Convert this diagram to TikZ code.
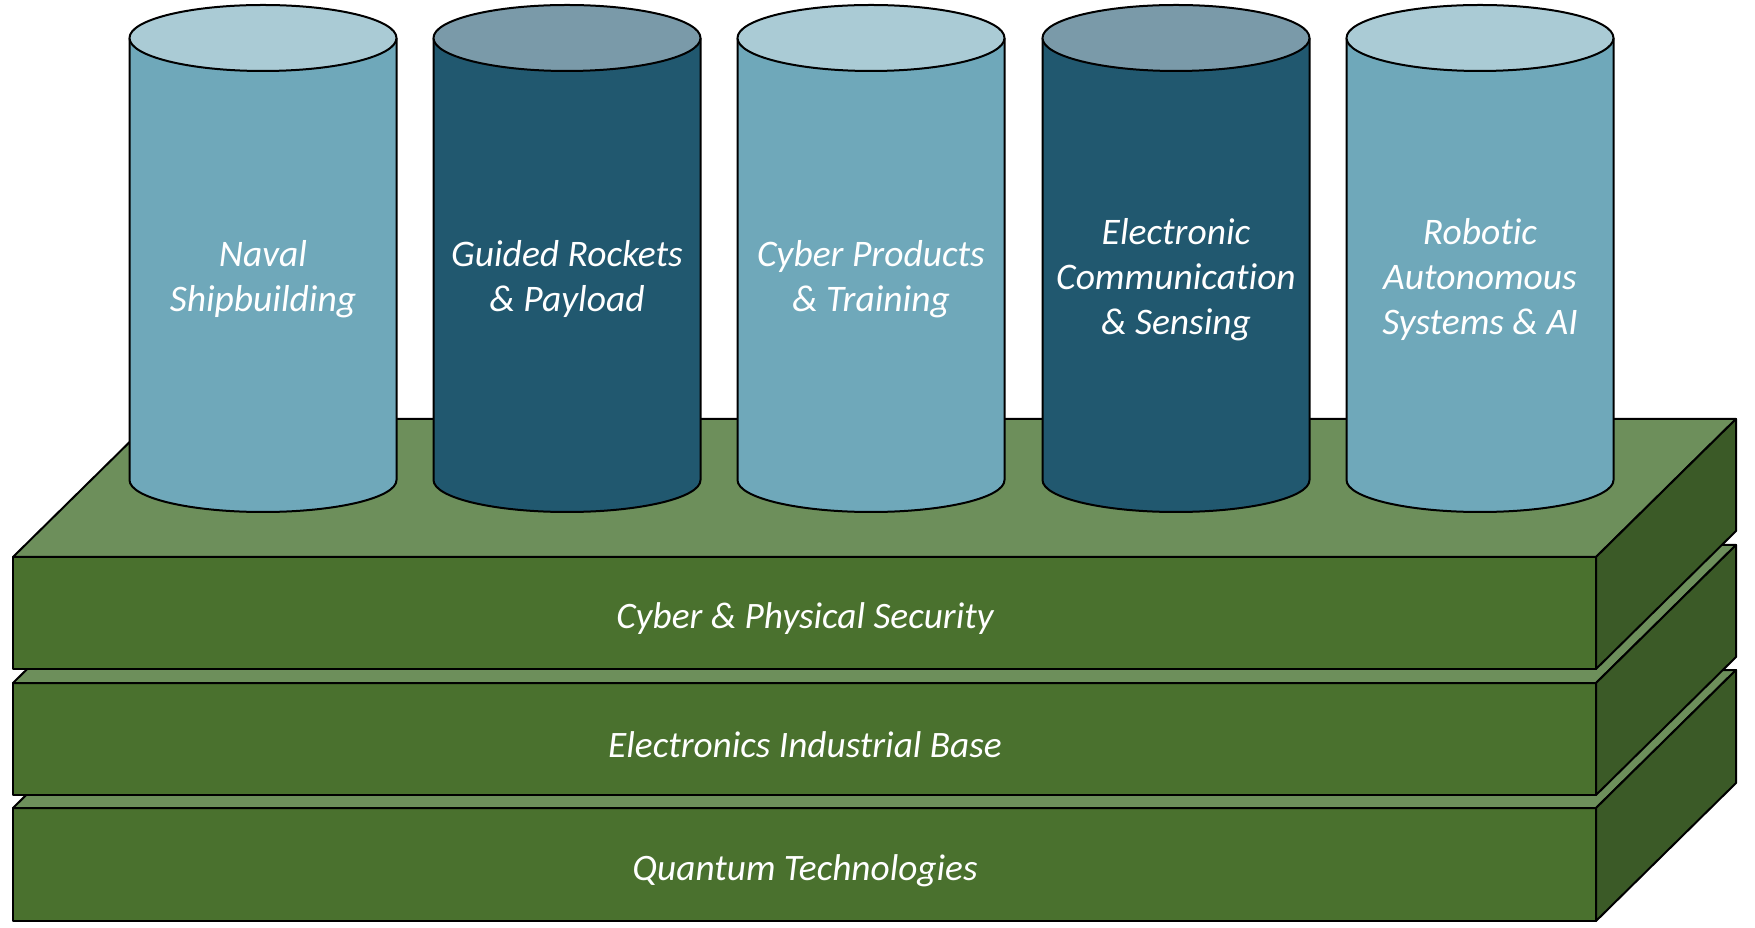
\documentclass[tikz,border=0pt]{standalone}
\usepackage{fontspec}
\setmainfont{Carlito}[Ligatures=NoCommon]
\definecolor{slabtop}{HTML}{6D8F5B}
\definecolor{slabfront}{HTML}{4A712E}
\definecolor{slabside}{HTML}{3B5A27}
\definecolor{cylbodyL}{HTML}{6FA8BA}
\definecolor{cyltopL}{HTML}{AACBD5}
\definecolor{cylbodyD}{HTML}{21586F}
\definecolor{cyltopD}{HTML}{7A9AA9}
\newcommand\drawslab[2]{%
  \draw[fill=slabfront] (13,#1) rectangle (1596,#2);
  \draw[fill=slabtop] (13,#2) -- (153,#2+138) -- (1736,#2+138) -- (1596,#2) -- cycle;
  \draw[fill=slabside] (1596,#2) -- (1736,#2+138) -- (1736,#1+138) -- (1596,#1) -- cycle;
}
\newcommand\drawcyl[3]{%
  \draw[fill=#2] (#1-133.5,889) -- (#1-133.5,447) arc[start angle=180,end angle=360,x radius=133.5,y radius=32] -- (#1+133.5,889);
  \draw[fill=#3] (#1,889) ellipse [x radius=133.5, y radius=33];
}
\begin{document}
\begin{tikzpicture}[x=1pt,y=1pt,line width=2pt,line join=round,
  cyltext/.style={text=white,align=center,font=\itshape\fontsize{37.5}{45}\selectfont},
  slabtext/.style={text=white,font=\itshape\fontsize{37.3}{42}\selectfont}]
\useasboundingbox (0,0) rectangle (1755,927);
\drawslab{6}{119}
\drawslab{132}{244}
\drawslab{258}{370}
\drawcyl{263}{cylbodyL}{cyltopL}
\drawcyl{567}{cylbodyD}{cyltopD}
\drawcyl{871}{cylbodyL}{cyltopL}
\drawcyl{1176}{cylbodyD}{cyltopD}
\drawcyl{1480}{cylbodyL}{cyltopL}
\node[cyltext] (c1) at (263,647.5) {Naval\\Shipbuilding};
\node[cyltext] (c2) at (567,647.5) {Guided Rockets\\\& Payload};
\node[cyltext] (c3) at (871,647.5) {Cyber Products\\\& Training};
\node[cyltext] (c4) at (1176,647.5) {Electronic\\Communication\\\& Sensing};
\node[cyltext] (c5) at (1480,647.5) {Robotic\\Autonomous\\Systems \& AI};
\node[slabtext] (s1) at (805,308) {Cyber \& Physical Security};
\node[slabtext] (s2) at (805,182) {Electronics Industrial Base};
\node[slabtext] (s3) at (805,56) {Quantum Technologies};
\end{tikzpicture}
\end{document}
